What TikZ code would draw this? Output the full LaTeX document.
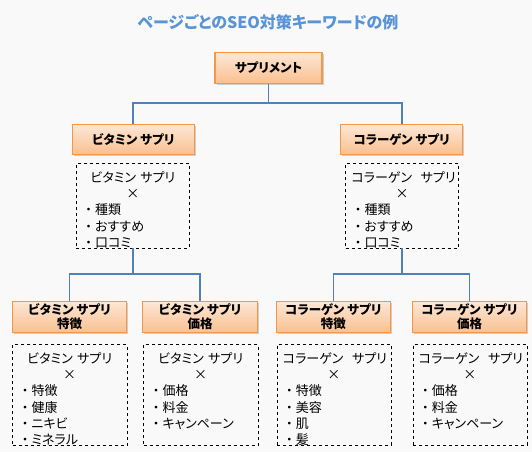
\documentclass[tikz,border=0pt]{standalone}
\usepackage{fontspec}
\setmainfont[RawFeature=+palt]{Noto Sans CJK JP}
\newfontfamily\fw{Noto Sans CJK JP}
\newcommand\bl{{\fw ・}}
\usetikzlibrary{calc,shadows}
\definecolor{bgc}{RGB}{249,249,250}
\definecolor{orng}{RGB}{247,150,70}
\definecolor{otop}{RGB}{252,231,214}
\definecolor{obot}{RGB}{250,192,143}
\definecolor{lnk}{RGB}{79,129,189}
\definecolor{ttl}{RGB}{88,148,214}
\tikzset{
  catbox/.style={draw=orng, line width=1.1pt, top color=otop, bottom color=obot,
    drop shadow={shadow xshift=1.5pt, shadow yshift=-1.5pt, fill=black!30, opacity=.6},
    inner sep=0pt, font=\bfseries\fontsize{12.5}{13.8}\selectfont, align=center},
  kwbox/.style={draw=black, dashed, line width=0.7pt, inner sep=0pt, anchor=north west},
  kwtext/.style={inner sep=0pt, anchor=north west, font=\fontsize{13}{16.2}\selectfont},
  link/.style={draw=lnk, line width=1.8pt},
}
\newcommand\kwlist[6]{% name, x, y, width, height, content
  \node[kwbox, minimum width=#4pt, minimum height=#5pt] (#1) at (#2,#3) {};
  \begin{scope}
    \clip (#1.north west) rectangle (#1.south east);
    \node[kwtext, text width=#4pt-12pt] (#1-t) at ($(#1.north west)+(6,7.7)$) {#6};
  \end{scope}
}
\newcommand\kwcontent[2]{\parindent=0pt{\centering\strut\mbox{#1}\\×\par}\raggedright\strut #2}
\begin{document}
\begin{tikzpicture}[x=1pt,y=-1pt]
\fill[bgc] (0,0) rectangle (532,452);
\useasboundingbox (0,0) rectangle (532,452);
% title
\node[text=ttl, font=\bfseries\fontsize{16}{18}\selectfont] (title) at (268,22) {ページごとのSEO対策キーワードの例};
% level 0
\node[catbox, minimum width=107pt, minimum height=31pt] (top) at (268.5,68) {サプリメント};
% level 1
\node[catbox, minimum width=122pt, minimum height=30pt] (vit) at (133.3,139.3) {ビタミン サプリ};
\node[catbox, minimum width=122pt, minimum height=30pt] (col) at (401.7,139.3) {コラーゲン サプリ};
% level 1 keyword boxes
\kwlist{kv}{76}{163.3}{113.3}{84.4}{\kwcontent{ビタミン サプリ}{\bl 種類\\\bl おすすめ\\\bl 口コミ}}
\kwlist{kc}{345.3}{163.3}{113}{84.4}{\kwcontent{コラーゲン\ \ サプリ}{\bl 種類\\\bl おすすめ\\\bl 口コミ}}
% level 2
\node[catbox, minimum width=114.4pt, minimum height=31.7pt] (vf) at (69.5,316.9) {ビタミン サプリ\\特徴};
\node[catbox, minimum width=115.4pt, minimum height=31.7pt] (vp) at (200,316.9) {ビタミン サプリ\\価格};
\node[catbox, minimum width=114.7pt, minimum height=31.7pt] (cf) at (333.4,316.9) {コラーゲン サプリ\\特徴};
\node[catbox, minimum width=114.4pt, minimum height=31.7pt] (cp) at (469.5,316.9) {コラーゲン サプリ\\価格};
% level 2 keyword boxes
\kwlist{kvf}{12.3}{344.3}{114.4}{100.7}{\kwcontent{ビタミン サプリ}{\bl 特徴\\\bl 健康\\\bl ニキビ\\\bl ミネラル}}
\kwlist{kvp}{143.3}{344.3}{114.4}{100.7}{\kwcontent{ビタミン サプリ}{\bl 価格\\\bl 料金\\\bl キャンペーン}}
\kwlist{kcf}{276.7}{344.3}{114}{100.7}{\kwcontent{コラーゲン\ \ サプリ}{\bl 特徴\\\bl 美容\\\bl 肌\\\bl 髪}}
\kwlist{kcp}{412.7}{344.3}{114}{100.7}{\kwcontent{コラーゲン\ \ サプリ}{\bl 価格\\\bl 料金\\\bl キャンペーン}}
% connectors
\draw[link] (top.south) -- (top.south |- 0,103) -| (vit.north);
\draw[link] (top.south) -- (top.south |- 0,103) -| (col.north);
\draw[link] (kv.south) -- (kv.south |- 0,274) -| (vf.north);
\draw[link] (kv.south) -- (kv.south |- 0,274) -| (vp.north);
\draw[link] (kc.south) -- (kc.south |- 0,274) -| (cf.north);
\draw[link] (kc.south) -- (kc.south |- 0,274) -| (cp.north);
\end{tikzpicture}
\end{document}
